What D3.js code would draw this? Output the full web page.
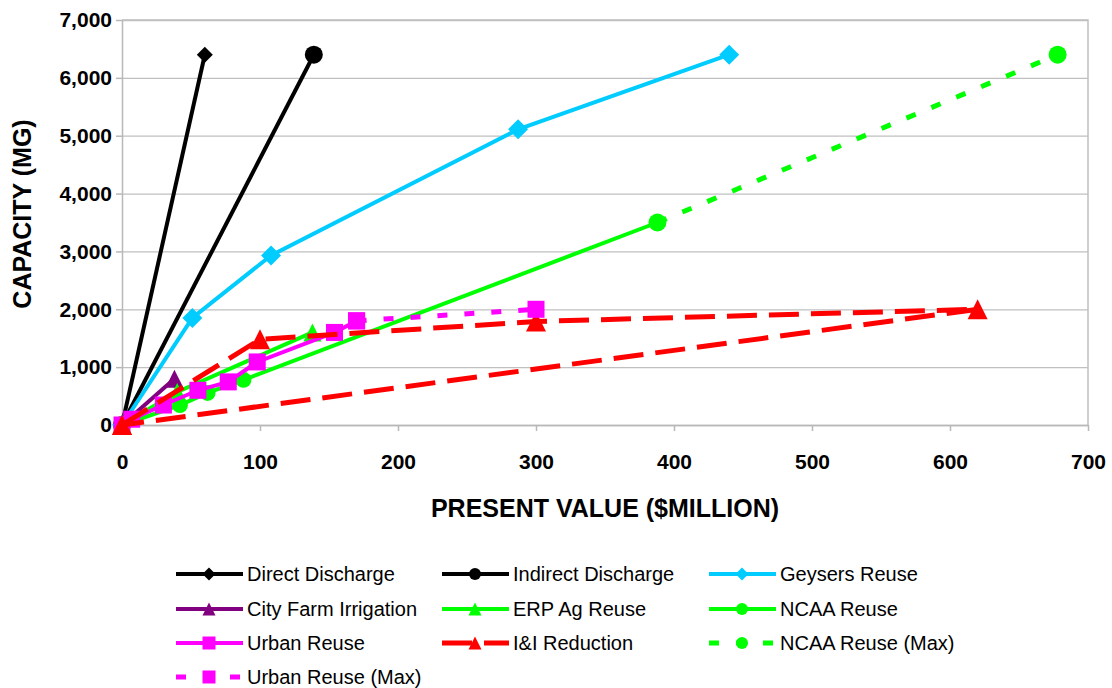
<!DOCTYPE html>
<html>
<head>
<meta charset="utf-8">
<script src="https://cdnjs.cloudflare.com/ajax/libs/d3/7.8.5/d3.min.js"></script>
<style>
  body { margin: 0; background: #fff; }
  svg { display: block; font-family: "Liberation Sans", Arial, sans-serif; }
  .grid line { stroke: #c0c0c0; stroke-width: 1.3; }
  .grid .domain { display: none; }
  .axis path, .axis line { stroke: #b8b8b8; stroke-width: 1.5; }
  .axis text { font-size: 21px; font-weight: bold; fill: #000; }
  .title { font-size: 25px; font-weight: bold; fill: #000; }
  .legend text { font-size: 20px; fill: #000; }
</style>
</head>
<body>
<div id="chart"></div>
<script>
// tick values
const xTicks = [0, 100, 200, 300, 400, 500, 600, 700];
const yTicks = [0, 1000, 2000, 3000, 4000, 5000, 6000, 7000];

// present value ($M) / capacity (MG) pairs for each alternative
const directDischarge   = [[0, 0], [60, 6400]];
const indirectDischarge = [[0, 0], [139, 6400]];
const geysersReuse      = [[0, 0], [51, 1850], [108, 2930], [287, 5110], [440, 6400]];
const cityFarm          = [[0, 0], [38, 800]];
const erpAgReuse        = [[0, 0], [40, 570], [138, 1600]];
const ncaaReuse         = [[0, 0], [42, 345], [62, 555], [88, 780], [388, 3500]];
const urbanReuse        = [[0, 0], [7, 100], [30, 345], [55, 600], [77, 745], [98, 1090], [154, 1600], [170, 1800]];
const iiReduction       = [[0, 0], [100, 1480], [300, 1790], [620, 2000], [0, 0]];
const ncaaReuseMax      = [[388, 3500], [678, 6400]];
const urbanReuseMax     = [[170, 1800], [300, 2000]];

const series = [
  {name: "Direct Discharge",      data: directDischarge,   color: "#000000", marker: "diamond",  size: 8,  dash: null},
  {name: "Indirect Discharge",    data: indirectDischarge, color: "#000000", marker: "circle",   size: 9,  dash: null},
  {name: "Geysers Reuse",         data: geysersReuse,      color: "#00ccff", marker: "diamond",  size: 10, dash: null},
  {name: "City Farm Irrigation",  data: cityFarm,          color: "#800080", marker: "triangle", size: 9,  dash: null},
  {name: "ERP Ag Reuse",          data: erpAgReuse,        color: "#00ff00", marker: "triangle", size: 9,  dash: null},
  {name: "NCAA Reuse",            data: ncaaReuse,         color: "#00ff00", marker: "circle",   size: 8,  dash: null},
  {name: "Urban Reuse",           data: urbanReuse,        color: "#ff00ff", marker: "square",   size: 8.5, dash: null},
  {name: "I&I Reduction",         data: iiReduction,       color: "#ff0000", marker: "triangle", size: 10, dash: "30,12"},
  {name: "NCAA Reuse (Max)",      data: ncaaReuseMax,      color: "#00ff00", marker: "circle",   size: 9,  dash: "10,17"},
  {name: "Urban Reuse (Max)",     data: urbanReuseMax,     color: "#ff00ff", marker: "square",   size: 8.5, dash: "10,17"}
];

const W = 1112, H = 688;
const margin = {top: 20, right: 24, bottom: 263, left: 122};
const plotW = W - margin.left - margin.right;
const plotH = H - margin.top - margin.bottom;

const svg = d3.select("#chart").append("svg").attr("width", W).attr("height", H);

const x = d3.scaleLinear().domain([0, 700]).range([margin.left, margin.left + plotW]);
const y = d3.scaleLinear().domain([0, 7000]).range([margin.top + plotH, margin.top]);

// gridlines
svg.append("g").attr("class", "grid")
  .attr("transform", `translate(${margin.left},0)`)
  .call(d3.axisLeft(y).tickValues(yTicks).tickSize(-plotW).tickFormat(""));

// plot frame (right + top)
svg.append("path")
  .attr("d", `M${x(0)},${y(7000)}H${x(700)}V${y(0)}`)
  .attr("fill", "none").attr("stroke", "#c0c0c0").attr("stroke-width", 1.5);

// axes
svg.append("g").attr("class", "axis")
  .attr("transform", `translate(0,${y(0)})`)
  .call(d3.axisBottom(x).tickValues(xTicks).tickSize(6).tickSizeOuter(0).tickPadding(23).tickFormat(d3.format(",")));
svg.append("g").attr("class", "axis")
  .attr("transform", `translate(${x(0)},0)`)
  .call(d3.axisLeft(y).tickValues(yTicks).tickSize(6).tickSizeOuter(0).tickPadding(4).tickFormat(d3.format(",")));

svg.append("text").attr("class", "title")
  .attr("x", 605).attr("y", 517).attr("text-anchor", "middle")
  .text("PRESENT VALUE ($MILLION)");
svg.append("text").attr("class", "title")
  .attr("transform", "translate(31,214) rotate(-90)").attr("text-anchor", "middle")
  .text("CAPACITY (MG)");

function markerPath(type, s) {
  if (type === "diamond") return `M0,${-s}L${s},0L0,${s}L${-s},0Z`;
  if (type === "square") return `M${-s},${-s}H${s}V${s}H${-s}Z`;
  if (type === "triangle") return `M0,${-s}L${s},${s}L${-s},${s}Z`;
  return d3.arc()({innerRadius: 0, outerRadius: s, startAngle: 0, endAngle: 2 * Math.PI});
}

const line = d3.line().x(d => x(d[0])).y(d => y(d[1]));

series.forEach(s => {
  const g = svg.append("g");
  g.append("path").datum(s.data)
    .attr("d", line)
    .attr("fill", "none")
    .attr("stroke", s.color)
    .attr("stroke-width", s.dash ? 5 : 4)
    .attr("stroke-dasharray", s.dash);
  g.selectAll("path.mk").data(s.data).enter().append("path")
    .attr("class", "mk")
    .attr("transform", d => `translate(${x(d[0])},${y(d[1])})`)
    .attr("d", markerPath(s.marker, s.size))
    .attr("fill", s.color);
});

// legend
const legCols = [176, 442, 709];
const legRows = [574, 609, 643, 677];
const leg = svg.append("g").attr("class", "legend");
series.forEach((s, i) => {
  const lx = legCols[i % 3], ly = legRows[Math.floor(i / 3)];
  const g = leg.append("g").attr("transform", `translate(${lx},${ly})`);
  g.append("line").attr("x1", 0).attr("x2", 67)
    .attr("stroke", s.color).attr("stroke-width", s.dash ? 5 : 4)
    .attr("stroke-dasharray", s.dash);
  g.append("path").attr("transform", "translate(33,0)")
    .attr("d", markerPath(s.marker, s.marker === "circle" ? 6 : 6.5))
    .attr("fill", s.color);
  g.append("text").attr("x", 71).attr("dy", "0.35em").text(s.name);
});
</script>
</body>
</html>
